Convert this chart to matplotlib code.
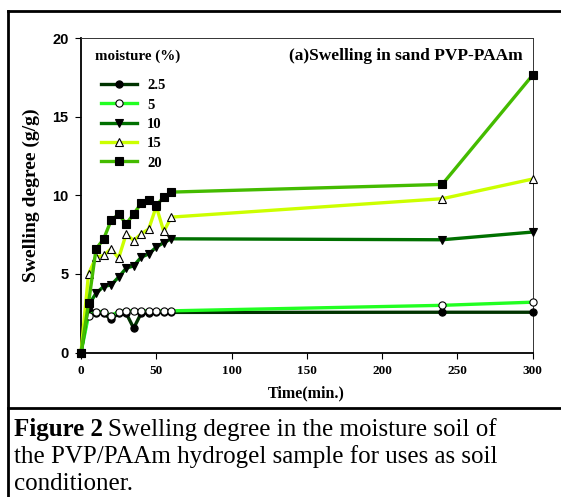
import numpy as np
import matplotlib
matplotlib.use('Agg')
import matplotlib.pyplot as plt

# time points (min.)
t = [0, 5, 10, 15, 20, 25, 30, 35, 40, 45, 50, 55, 60, 240, 300]

# swelling degree (g/g) for each moisture level (%)
m25 = [0, 2.7, 2.5, 2.5, 2.1, 2.5, 2.5, 1.55, 2.5, 2.5, 2.55, 2.55, 2.55, 2.56, 2.56]
m5 = [0, 2.35, 2.6, 2.6, 2.35, 2.6, 2.65, 2.65, 2.65, 2.65, 2.65, 2.65, 2.65, 3.0, 3.2]
m10 = [0, 3.0, 3.77, 4.19, 4.3, 4.79, 5.36, 5.51, 6.06, 6.27, 6.7, 6.99, 7.23, 7.17, 7.66]
m15 = [0, 5.0, 6.06, 6.17, 6.59, 6.0, 7.53, 7.12, 7.55, 7.85, 9.29, 7.7, 8.61, 9.78, 11.03]
m20 = [0, 3.13, 6.59, 7.21, 8.4, 8.8, 8.18, 8.8, 9.5, 9.67, 9.35, 9.88, 10.2, 10.69, 17.63]

labels = ['2.5', '5', '10', '15', '20']
series = [m25, m5, m10, m15, m20]
colors = ['#003300', '#22ff22', '#007000', '#ccff00', '#44bb00']
markers = ['o', 'o', 'v', '^', 's']
faces = ['black', 'white', 'black', 'white', 'black']

serif = ['Liberation Serif', 'DejaVu Serif']
sans = ['Liberation Sans', 'DejaVu Sans']

fig = plt.figure(figsize=(5.61, 4.97), dpi=100)
W, H = 561, 497
ax = fig.add_axes([81/W, 1-352.5/H, (532.5-81)/W, (352.5-38)/H])

for y, lab, c, mk, fc in zip(series, labels, colors, markers, faces):
    ax.plot(t, y, color=c, lw=2.4, marker=mk, mfc=fc, mec='black',
            mew=0.8, ms=5.2, label=lab, clip_on=False, zorder=3)

ax.set_xlim(0, 300)
ax.set_ylim(0, 20)
ax.set_xticks([0, 50, 100, 150, 200, 250, 300])
ax.set_yticks([0, 5, 10, 15, 20])
ax.tick_params(direction='out', length=4, width=0.8)
ax.tick_params(axis='x', labelsize=9.5, pad=5)
ax.tick_params(axis='y', labelsize=10.5, pad=5)
for lb in ax.get_xticklabels():
    lb.set_fontfamily(serif)
    lb.set_fontweight('bold')
for lb in ax.get_yticklabels():
    lb.set_fontfamily(sans)
    lb.set_fontweight('bold')
for s in ['left', 'bottom']:
    ax.spines[s].set_linewidth(1.3)
for s in ['top', 'right']:
    ax.spines[s].set_linewidth(0.7)
    ax.spines[s].set_color('#333333')

ax.set_xlabel('Time(min.)', fontfamily=serif, fontweight='bold', fontsize=11.5, labelpad=6)
ax.set_ylabel('Swelling degree (g/g)', fontfamily=serif, fontweight='bold', fontsize=14, labelpad=9)

fig.text(523/W, 1-56/H, '(a)Swelling in sand PVP-PAAm', ha='right', va='center',
         fontfamily=serif, fontweight='bold', fontsize=12.5)
fig.text(95/W, 1-56/H, 'moisture (%)', ha='left', va='center',
         fontfamily=serif, fontweight='bold', fontsize=10.8)

leg = ax.legend(loc='upper left', bbox_to_anchor=(101/W, 1-79/H),
                bbox_transform=fig.transFigure, frameon=False,
                handlelength=2.5, handletextpad=0.65, labelspacing=0.42,
                borderaxespad=0, borderpad=0,
                prop={'family': serif, 'weight': 'bold', 'size': 10.5})

# outer frame and caption box
fig.add_artist(plt.Line2D([8/W, 8/W], [0, 1-11/H], color='black', lw=2, transform=fig.transFigure))
fig.add_artist(plt.Line2D([8/W, 1], [1-11/H, 1-11/H], color='black', lw=2, transform=fig.transFigure))
fig.add_artist(plt.Line2D([8/W, 1], [1-408/H, 1-408/H], color='black', lw=2, transform=fig.transFigure))

cap_fs = 18
base = [436, 463, 490]
f2 = fig.text(14/W, 1-base[0]/H, 'Figure 2', fontfamily=serif, fontweight='bold',
              fontsize=cap_fs, va='baseline')
r = fig.canvas.get_renderer()
x_end = f2.get_window_extent(r).x1
fig.text(x_end/W + 5/W, 1-base[0]/H, 'Swelling degree in the moisture soil of',
         fontfamily=serif, fontsize=cap_fs, va='baseline')
fig.text(14/W, 1-base[1]/H, 'the PVP/PAAm hydrogel sample for uses as soil',
         fontfamily=serif, fontsize=cap_fs, va='baseline')
fig.text(14/W, 1-base[2]/H, 'conditioner.', fontfamily=serif, fontsize=cap_fs, va='baseline')

fig.savefig('out.png', dpi=100)
